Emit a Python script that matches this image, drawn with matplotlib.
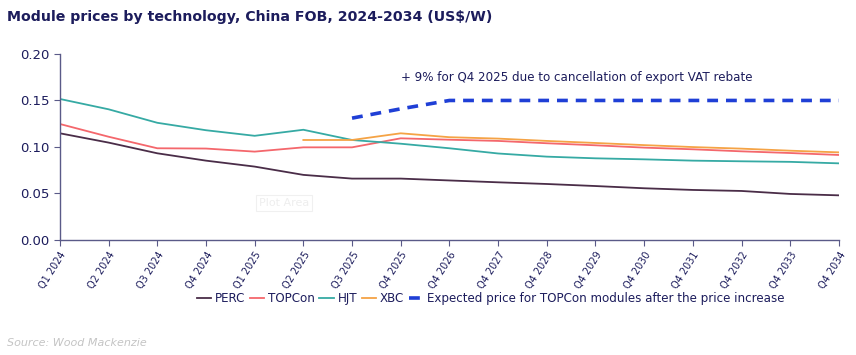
import numpy as np
import matplotlib
matplotlib.use("Agg")
import matplotlib.pyplot as plt

# category labels along the x axis
quarters = ["Q1 2024", "Q2 2024", "Q3 2024", "Q4 2024", "Q1 2025", "Q2 2025",
            "Q3 2025", "Q4 2025", "Q4 2026", "Q4 2027", "Q4 2028", "Q4 2029",
            "Q4 2030", "Q4 2031", "Q4 2032", "Q4 2033", "Q4 2034"]

perc = [0.1147, 0.1047, 0.0932, 0.0853, 0.0789, 0.0700, 0.0660, 0.0660,
        0.0640, 0.0620, 0.0602, 0.0580, 0.0556, 0.0538, 0.0527, 0.0495, 0.0480]
topcon = [0.1247, 0.1110, 0.0986, 0.0983, 0.0950, 0.0996, 0.0996, 0.1093,
          0.1078, 0.1065, 0.1040, 0.1018, 0.0993, 0.0975, 0.0953, 0.0935, 0.0914]
hjt = [0.1516, 0.1405, 0.1260, 0.1180, 0.1120, 0.1185, 0.1075, 0.1035,
       0.0986, 0.0930, 0.0896, 0.0878, 0.0867, 0.0853, 0.0846, 0.0840, 0.0824]
# XBC starts in Q2 2025
xbc = [np.nan] * 5 + [0.1075, 0.1075, 0.1147, 0.1105, 0.1090, 0.1065,
                      0.1043, 0.1020, 0.0999, 0.0982, 0.0960, 0.0942]
# expected TOPCon price after VAT rebate cancellation, starts Q3 2025
expected = [np.nan] * 6 + [0.131, 0.141, 0.150, 0.150, 0.150, 0.150,
                           0.150, 0.150, 0.150, 0.150, 0.150]

navy = "#1c1c5c"
axis_col = "#5a5a88"

fig = plt.figure(figsize=(8.56, 3.55), dpi=100)
ax = fig.add_axes([0.070, 0.324, 0.910, 0.524])

x = np.arange(len(quarters))
ax.plot(x, perc, color="#4a2d48", lw=1.3, label="PERC")
ax.plot(x, topcon, color="#f4676c", lw=1.3, label="TOPCon")
ax.plot(x, hjt, color="#36aaa4", lw=1.3, label="HJT")
ax.plot(x, xbc, color="#f5a345", lw=1.3, label="XBC")
ax.plot(x, expected, color="#1f3fd6", lw=2.6, ls=(0, (3, 2.2)),
        label="Expected price for TOPCon modules after the price increase")

ax.set_xlim(0, len(quarters) - 1)
ax.set_ylim(0, 0.20)
ax.set_yticks([0, 0.05, 0.10, 0.15, 0.20])
ax.set_yticklabels(["0.00", "0.05", "0.10", "0.15", "0.20"])
ax.set_xticks(x)
ax.set_xticklabels(quarters, rotation=58, ha="right", rotation_mode="anchor")

for s in ["top", "right"]:
    ax.spines[s].set_visible(False)
for s in ["left", "bottom"]:
    ax.spines[s].set_color(axis_col)
    ax.spines[s].set_linewidth(1.0)
ax.tick_params(axis="y", colors=axis_col, labelcolor=navy, labelsize=9.5,
               length=4, direction="out")
ax.tick_params(axis="x", colors=axis_col, labelcolor=navy, labelsize=7,
               length=4, direction="out", pad=3)

ax.text(7.0, 0.175, "+ 9% for Q4 2025 due to cancellation of export VAT rebate",
        color=navy, fontsize=8.6, va="center")

# faint leftover "Plot Area" tag from the source chart
ax.text(4.6, 0.040, "Plot Area", color="#eeeeee", fontsize=8, ha="center",
        va="center", bbox=dict(fc="white", ec="#f0f0f0", lw=0.8, pad=2))

fig.text(0.008, 0.952, "Module prices by technology, China FOB, 2024-2034 (US$/W)",
         color=navy, fontsize=10.2, fontweight="bold", va="center")
fig.text(0.008, 0.035, "Source: Wood Mackenzie", color="#c4c4c4",
         fontsize=8, style="italic", va="center")

leg = fig.legend(loc="center", bbox_to_anchor=(0.573, 0.160), ncol=5,
                 frameon=False, fontsize=8.6, handlelength=1.2,
                 handletextpad=0.3, columnspacing=0.4)
for t in leg.get_texts():
    t.set_color(navy)

fig.savefig("out.png", dpi=100)
